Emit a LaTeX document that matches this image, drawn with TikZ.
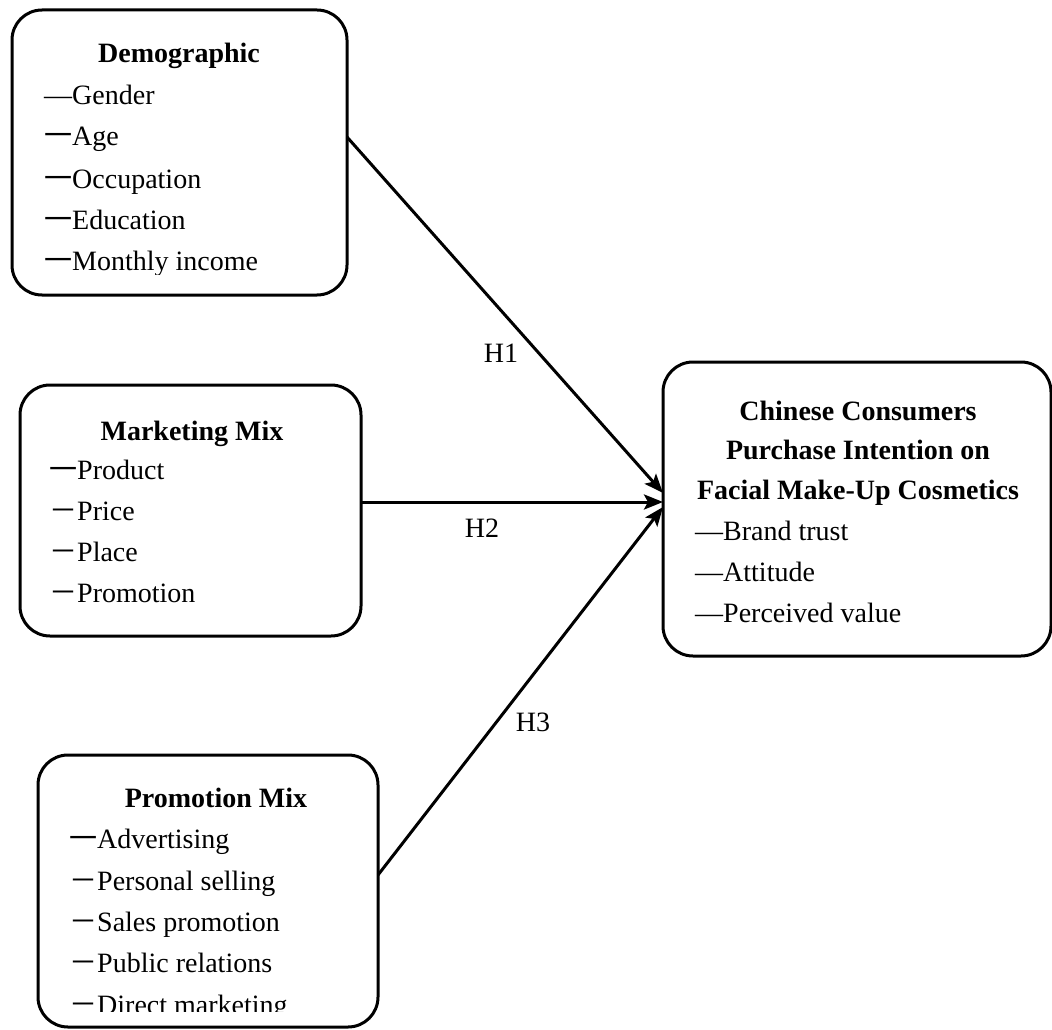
\documentclass[tikz,border=0pt]{standalone}
\usepackage{fontspec}
\setmainfont{Liberation Serif}
\newfontfamily\cjk{Noto Sans CJK SC}
\usetikzlibrary{arrows.meta}
\begin{document}
\begin{tikzpicture}[x=1pt,y=-1pt,
  box/.style={draw, line width=3pt, rounded corners=30pt, inner sep=0pt, outer sep=0pt},
  ttl/.style={anchor=base, font=\fontsize{28}{34}\selectfont\bfseries, inner sep=0pt},
  itm/.style={anchor=base west, font=\fontsize{28}{34}\selectfont, inner sep=0pt},
  lbl/.style={font=\fontsize{28}{34}\selectfont, inner sep=0pt},
  conn/.style={line width=3pt, -{Stealth[length=19pt,width=15pt,inset=4pt]}}]
\useasboundingbox (0,0) rectangle (1052,1030);

% boxes
\node[box, minimum width=335pt, minimum height=285pt] (demo) at (179.5,152.5) {};
\node[box, minimum width=341pt, minimum height=251pt] (mkt) at (190.5,510.5) {};
\node[box, minimum width=340pt, minimum height=272pt] (promo) at (208,891) {};
\node[box, minimum width=388pt, minimum height=294pt] (out) at (857,509) {};

% Demographic
\node[ttl] (demoT) at (179,63) {Demographic};
\node[itm] (d1) at (44,105) {—Gender};
\node[itm] (d2) at (44,146) {{\cjk 一}Age};
\node[itm] (d3) at (44,188) {{\cjk 一}Occupation};
\node[itm] (d4) at (44,229) {{\cjk 一}Education};
\begin{scope}
\clip (0,0) rectangle (1052,274);
\node[itm] (d5) at (44,270) {{\cjk 一}Monthly income};
\end{scope}

% Marketing Mix
\node[ttl] (mktT) at (192,440) {Marketing Mix};
\node[itm] (m1) at (49,479) {{\cjk 一}Product};
\node[itm] (m2) at (49,520) {{\cjk －}Price};
\node[itm] (m3) at (49,561) {{\cjk －}Place};
\node[itm] (m4) at (49,602) {{\cjk －}Promotion};

% Promotion Mix
\node[ttl] (promoT) at (216,807) {Promotion Mix};
\node[itm] (p1) at (69,848) {{\cjk 一}Advertising};
\node[itm] (p2) at (69,890) {{\cjk －}Personal selling};
\node[itm] (p3) at (69,931) {{\cjk －}Sales promotion};
\node[itm] (p4) at (69,972) {{\cjk －}Public relations};
\begin{scope}
\clip (0,0) rectangle (1052,1011);
\node[itm] (p5) at (69,1014) {{\cjk －}Direct marketing};
\end{scope}

% Outcome
\node[ttl] (outT1) at (858,420) {Chinese Consumers};
\node[ttl] (outT2) at (858,459) {Purchase Intention on};
\node[ttl] (outT3) at (858,499) {Facial Make-Up Cosmetics};
\node[itm] (o1) at (695,540) {—Brand trust};
\node[itm] (o2) at (695,581) {—Attitude};
\node[itm] (o3) at (695,622) {—Perceived value};

% connectors
\draw[conn] ([yshift=15.5pt]demo.east) -- ([yshift=16pt]out.west);
\draw[conn] ([yshift=8.5pt]mkt.east) -- ([yshift=7pt]out.west);
\draw[conn] ([yshift=16pt]promo.east) -- ([yshift=2pt]out.west);

% labels
\node[lbl] (h1) at (501,353) {H1};
\node[lbl] (h2) at (482,528) {H2};
\node[lbl] (h3) at (533,722) {H3};
\end{tikzpicture}
\end{document}
